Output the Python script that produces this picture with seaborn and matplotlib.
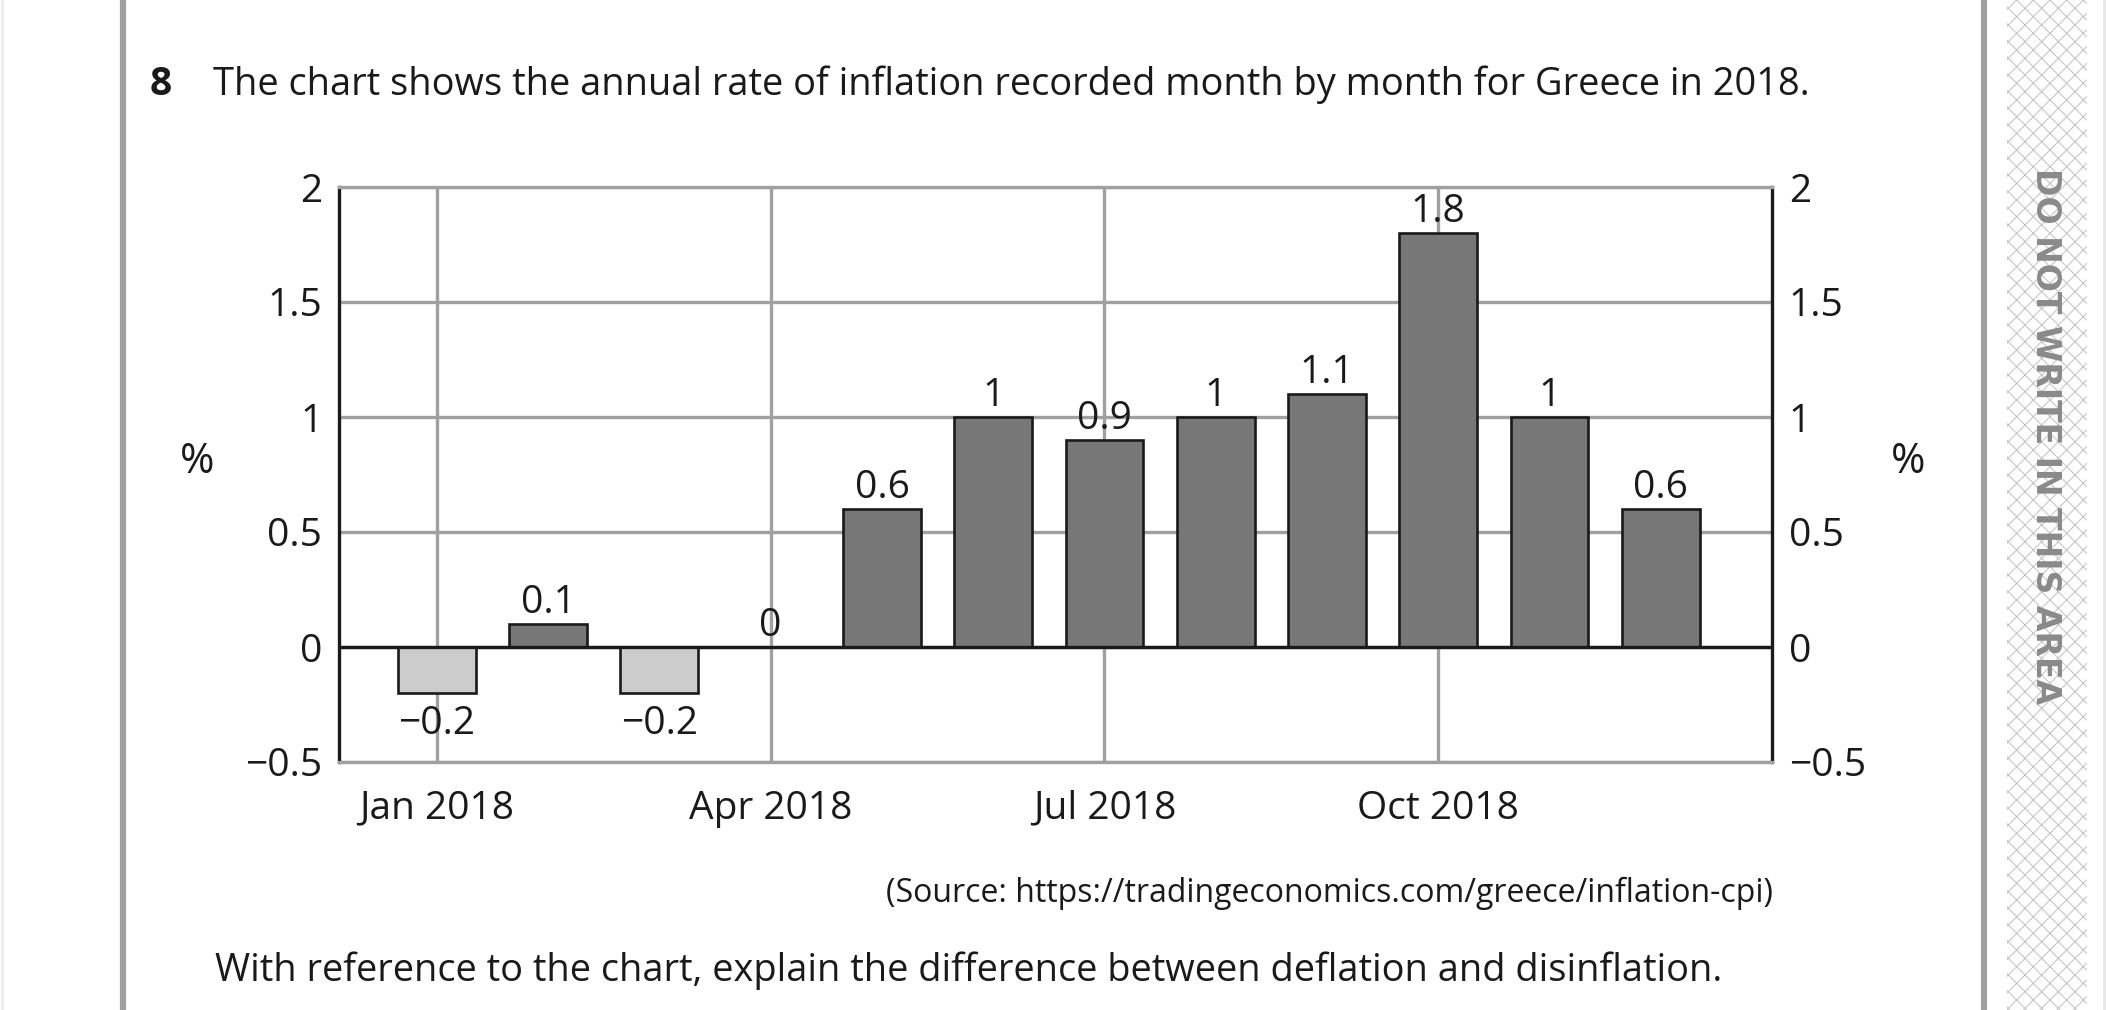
import numpy as np
import pandas as pd
import matplotlib
matplotlib.use('Agg')
import matplotlib.pyplot as plt
from matplotlib.patches import Rectangle
from matplotlib.lines import Line2D
import seaborn as sns

# Greece annual inflation rate, monthly readings for 2018 (%)
months = ['Jan', 'Feb', 'Mar', 'Apr', 'May', 'Jun', 'Jul', 'Aug', 'Sep', 'Oct', 'Nov', 'Dec']
inflation = [-0.2, 0.1, -0.2, 0.0, 0.6, 1.0, 0.9, 1.0, 1.1, 1.8, 1.0, 0.6]

tick_months = [0, 3, 6, 9]          # Jan, Apr, Jul, Oct
xtick_labels = ['Jan 2018', 'Apr 2018', 'Jul 2018', 'Oct 2018']
ytick_values = [-0.5, 0, 0.5, 1, 1.5, 2]
ytick_labels = ['\u22120.5', '0', '0.5', '1', '1.5', '2']

title = 'The chart shows the annual rate of inflation recorded month by month for Greece in 2018.'
source = '(Source: https://tradingeconomics.com/greece/inflation-cpi)'
question = 'With reference to the chart, explain the difference between deflation and disinflation.'

df = pd.DataFrame({'month': months, 'rate': inflation})
df['sign'] = np.where(df['rate'] < 0, 'neg', 'pos')

sns.set_style('white')
plt.rcParams['font.family'] = ['Open Sans', 'DejaVu Sans']
plt.rcParams['hatch.linewidth'] = 0.7

W, H = 2106, 1010
fig = plt.figure(figsize=(W / 100, H / 100), dpi=100)
ax = fig.add_axes([339 / W, 1 - 762 / H, (1772 - 339) / W, (762 - 187) / H])

sns.barplot(data=df, x='month', y='rate', hue='sign', order=months,
            hue_order=['neg', 'pos'], palette={'neg': '#cccccc', 'pos': '#777777'},
            dodge=False, width=0.70, errorbar=None, legend=False,
            edgecolor='#1a1a1a', linewidth=1.9, zorder=3, ax=ax)

ax.set_xlim(-0.88, 12.0)
ax.set_ylim(-0.5, 2)
ax.set_xticks(tick_months)
ax.set_xticklabels(xtick_labels)
ax.set_yticks(ytick_values)
ax.set_yticklabels(ytick_labels)
ax.set_xlabel('')
ax.set_ylabel('')

ax.grid(True, color='#a0a0a0', lw=2.4)
ax.set_axisbelow(True)
ax.axhline(0, color='#1a1a1a', lw=2.4, zorder=4)
for side in ['left', 'right']:
    ax.spines[side].set_color('#1a1a1a')
    ax.spines[side].set_linewidth(2.4)
    ax.spines[side].set_visible(True)
for side in ['top', 'bottom']:
    ax.spines[side].set_color('#a0a0a0')
    ax.spines[side].set_linewidth(2.4)
    ax.spines[side].set_visible(True)

ax.tick_params(axis='both', length=0, labelsize=28, colors='#1a1a1a')
ax.tick_params(axis='y', labelright=True, pad=12)
ax.tick_params(axis='x', pad=20)

# value labels above / below each bar
for i, v in enumerate(df['rate']):
    txt = f'{v:g}'.replace('-', '\u2212')
    if v < 0:
        ax.annotate(txt, (i, v), xytext=(0, -9), textcoords='offset points',
                    ha='center', va='top', fontsize=28, color='#1a1a1a')
    else:
        ax.annotate(txt, (i, v), xytext=(0, 8), textcoords='offset points',
                    ha='center', va='baseline', fontsize=28, color='#1a1a1a')

# page text
fig.text(150 / W, 1 - 95 / H, '8', fontsize=28, weight='bold', va='baseline', color='#1a1a1a')
fig.text(213 / W, 1 - 95 / H, title, fontsize=27.4, va='baseline', color='#1a1a1a')
fig.text(1773 / W, 1 - 902 / H, source, fontsize=23, ha='right', va='baseline', color='#1a1a1a')
fig.text(215 / W, 1 - 981 / H, question, fontsize=27.4, va='baseline', color='#1a1a1a')
fig.text(197 / W, 1 - 462 / H, '%', fontsize=30, ha='center', va='center', color='#1a1a1a')
fig.text(1908 / W, 1 - 462 / H, '%', fontsize=30, ha='center', va='center', color='#1a1a1a')

# page furniture: margins and the hatched strip
fig.add_artist(Line2D([123 / W] * 2, [0, 1], transform=fig.transFigure, color='#a0a0a0', lw=4.5))
fig.add_artist(Line2D([1983.5 / W] * 2, [0, 1], transform=fig.transFigure, color='#a0a0a0', lw=4.5))
fig.add_artist(Line2D([1.5 / W] * 2, [0, 1], transform=fig.transFigure, color='#ececec', lw=2))
fig.add_artist(Line2D([2104 / W] * 2, [0, 1], transform=fig.transFigure, color='#e6e6e6', lw=2))
fig.add_artist(Rectangle((2007 / W, 0), 80 / W, 1, transform=fig.transFigure,
                         facecolor='white', edgecolor='#c0c0c0', hatch='xx', lw=0))

warn = fig.text(2045 / W, 1 - 436.5 / H, 'DO NOT WRITE IN THIS AREA', rotation=270,
                ha='center', va='center', weight='bold', color='#8a8a8a', fontsize=31,
                family=['Liberation Sans Narrow', 'DejaVu Sans'])
fig.canvas.draw()
span = warn.get_window_extent().height
if span > 545:
    warn.set_fontsize(31 * 537 / span)

fig.savefig('out.png', dpi=100)
